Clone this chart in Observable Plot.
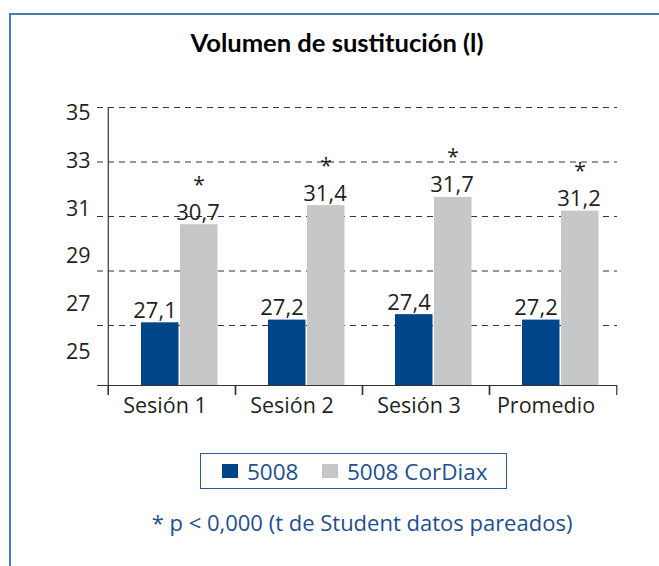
<!DOCTYPE html>
<html>
<head>
<meta charset="utf-8">
<script src="https://cdn.jsdelivr.net/npm/d3@7"></script>
<script src="https://cdn.jsdelivr.net/npm/@observablehq/plot@0.6"></script>
<style>
  html, body { margin: 0; padding: 0; background: #fff; }
  #page { position: relative; width: 659px; height: 566px; overflow: hidden; font-family: "Open Sans", "Noto Sans", sans-serif; }
  #border { position: absolute; left: 9px; top: 13px; width: 700px; height: 600px; border-left: 2px solid #4a7bb5; border-top: 2px solid #4a7bb5; }
  #title { position: absolute; left: 0; top: 0; }
  #main, #ylabels { position: absolute; left: 0; top: 0; }
  #legend { position: absolute; left: 200px; top: 453px; width: 305px; height: 34px; border: 1.5px solid #2a5a9c; box-sizing: content-box; }
  .item { position: absolute; top: 0; height: 34px; display: flex; align-items: center; color: #1d4f91; font-size: 22.5px; }
  .sw { display: inline-block; width: 16px; height: 14px; margin-right: 9px; }
  #note { position: absolute; left: 0; width: 724px; top: 507px; line-height: 30px; text-align: center; color: #1d4f91; font-size: 22px; }
</style>
</head>
<body>
<div id="page">
  <div id="border"></div>
  <svg id="title" width="659" height="80"><text x="337" y="52" text-anchor="middle" font-family="Lato, 'Open Sans', sans-serif" font-weight="bold" font-size="24" fill="#000" textLength="293" lengthAdjust="spacingAndGlyphs">Volumen de sustitución (l)</text></svg>
  <div id="main"></div>
  <div id="ylabels"></div>
  <div id="legend"></div>
  <div id="note"></div>
</div>
<script>
// ---- data ----
const categories = ["Sesión 1", "Sesión 2", "Sesión 3", "Promedio"];
const series = ["5008", "5008 CorDiax"];
const values5008 = [27.1, 27.2, 27.4, 27.2];
const valuesCorDiax = [30.7, 31.4, 31.7, 31.2];
const significant = [true, true, true, true];
const yTickLabels = [25, 27, 29, 31, 33, 35];
const gridValues = [27, 29, 31, 33, 35];
const yDomain = [24.8, 35];
const colors = ["#00448a", "#c6c7c9"];
const footnote = "* p < 0,000 (t de Student datos pareados)";

const rowsA = categories.map((c, i) => ({cat: c, serie: series[0], value: values5008[i]}));
const rowsB = categories.map((c, i) => ({cat: c, serie: series[1], value: valuesCorDiax[i], sig: significant[i]}));
const fmt = v => v.toFixed(1).replace(".", ",");

// ---- layout ----
const W = 659, H = 430, mT = 107, mB = 45, mL = 107, mR = 42;
const bw = (W - mL - mR) / categories.length;
const innerH = H - mT - mB;
const ink = "#333";
const font = "'Open Sans', 'Noto Sans', sans-serif";

const main = Plot.plot({
  width: W, height: H,
  marginTop: mT, marginBottom: mB, marginLeft: mL, marginRight: mR,
  style: {background: "transparent", color: "#231f20", fontSize: "21.5px", fontFamily: font, overflow: "visible"},
  x: {domain: categories, padding: 0},
  y: {domain: yDomain, axis: null},
  marks: [
    Plot.ruleY(gridValues, {stroke: ink, strokeWidth: 1, strokeDasharray: "6,5", insetLeft: -10}),
    Plot.barY(rowsA, {x: "cat", y1: () => yDomain[0], y2: "value", fill: colors[0], insetLeft: 33, insetRight: bw - 33 - 38}),
    Plot.barY(rowsB, {x: "cat", y1: () => yDomain[0], y2: "value", fill: colors[1], insetLeft: 72, insetRight: bw - 72 - 38}),
    Plot.ruleY([yDomain[0]], {stroke: ink, strokeWidth: 1.2, insetLeft: -10}),
    Plot.ruleX([categories[0]], {dx: -bw / 2, stroke: ink, strokeWidth: 1.2, insetBottom: -10}),
    Plot.ruleX(categories, {dx: -bw / 2, stroke: ink, strokeWidth: 1.2, insetTop: innerH, insetBottom: -10}),
    Plot.ruleX(categories, {dx: bw / 2, stroke: ink, strokeWidth: 1.2, insetTop: innerH, insetBottom: -10}),
    Plot.text(rowsA, {x: "cat", y: "value", text: d => fmt(d.value), dx: -17, dy: -5, lineAnchor: "bottom", fontSize: 22}),
    Plot.text(rowsB, {x: "cat", y: "value", text: d => fmt(d.value), dx: 26, dy: -5, lineAnchor: "bottom", fontSize: 22}),
    Plot.text(rowsB.filter(d => d.sig), {x: "cat", y: "value", text: () => "*", dx: 27, dy: -33, lineAnchor: "bottom", fontSize: 21}),
    Plot.axisX({tickSize: 0, tickPadding: 12, dx: -7, label: null, fontSize: 21.5})
  ]
});
document.getElementById("main").appendChild(main);

// y tick labels, drawn with their own axis as positioned in the original
const ylabels = Plot.plot({
  width: W, height: 400,
  marginTop: 112.7, marginBottom: 400 - 351.7, marginLeft: 90, marginRight: mR,
  style: {background: "transparent", color: "#231f20", fontSize: "21.5px", fontFamily: font, overflow: "visible"},
  y: {domain: [yTickLabels[0], yTickLabels[yTickLabels.length - 1]]},
  marks: [
    Plot.axisY(yTickLabels, {tickSize: 0, tickPadding: 0, label: null, tickFormat: d => String(d), fontSize: 21.5})
  ]
});
document.getElementById("ylabels").appendChild(ylabels);

// legend
const legend = document.getElementById("legend");
const itemLeft = [21, 121];
series.forEach((s, i) => {
  const it = document.createElement("div");
  it.className = "item";
  it.style.left = itemLeft[i] + "px";
  const sw = document.createElement("span");
  sw.className = "sw";
  sw.style.background = colors[i];
  it.appendChild(sw);
  it.appendChild(document.createTextNode(s));
  legend.appendChild(it);
});
document.getElementById("note").textContent = footnote;
</script>
</body>
</html>
